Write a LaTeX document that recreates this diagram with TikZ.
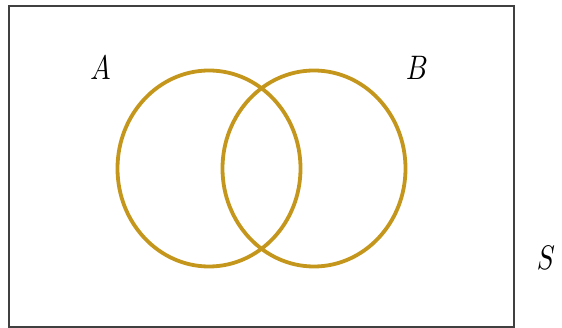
\documentclass[tikz,border=0pt]{standalone}
\usepackage{tikz}
\usetikzlibrary{positioning}

\definecolor{setgold}{RGB}{196,150,28}

\begin{document}
\begin{tikzpicture}[
        x=1pt, y=-1pt,
        every node/.style={xscale=2.7, yscale=3.4, inner sep=0pt},
        setline/.style={setgold, line width=3.8pt}
    ]

    \tikzset{
    frame/.style={draw=black!75, line width=1.6pt}
}

    \useasboundingbox (0,0) rectangle (562,328);

    \draw[frame] (9,6) rectangle (514,327);

    \draw[setline] (209,168.5) ellipse [x radius=91.5, y radius=98];
    \draw[setline] (314,168.5) ellipse [x radius=91.5, y radius=98];

    \node (A) at (100.5,68) {$A$};
    \node (B) at (417,67.5) {$B$};
    \node (S) at (546,258) {$S$};
    \end{tikzpicture}
\end{document}
